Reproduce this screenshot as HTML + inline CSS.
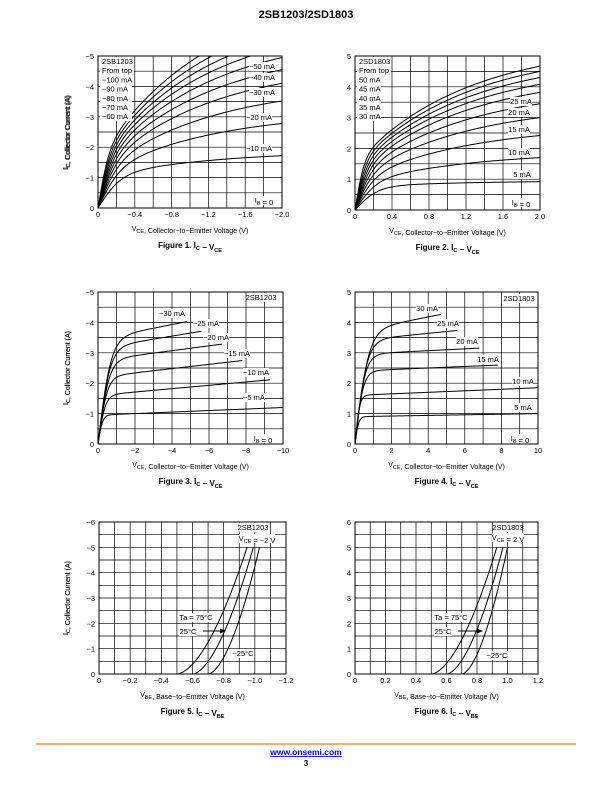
<!DOCTYPE html>
<html><head><meta charset="utf-8">
<style>
html,body{margin:0;padding:0;background:#fff;}
svg{display:block;font-family:"Liberation Sans",Arial,sans-serif;}
</style></head>
<body>
<svg id="s" width="612" height="792" viewBox="0 0 612 792" xmlns="http://www.w3.org/2000/svg">
<text x="306" y="18" text-anchor="middle" font-size="11" font-weight="bold">2SB1203/2SD1803</text>
<line x1="36" y1="744" x2="576" y2="744" stroke="#e8781e" stroke-width="1.2"/>
<text x="306" y="755" text-anchor="middle" font-size="8.5" font-weight="bold" fill="#0000ee" text-decoration="underline">www.onsemi.com</text>
<text x="306" y="766" text-anchor="middle" font-size="8" font-weight="bold">3</text>
</svg>
<script>
var S=document.getElementById('s'),h='';
function T(x,y,t,o){o=o||{};h+='<text x="'+x+'" y="'+y+'" font-size="'+(o.fs||7.5)+'" text-anchor="'+(o.a||'middle')+'"'+(o.b?' font-weight="bold"':'')+(o.tr?' transform="'+o.tr+'"':'')+'>'+t+'</text>';}
function LBL(x,y,t,w){h+='<rect x="'+(x-w/2)+'" y="'+(y-7)+'" width="'+w+'" height="9" fill="#fff"/>';T(x,y,t);}
var cid=0;
function chart(c){
 var L=c.L,R=c.R,Tp=c.T,B=c.B,nx=c.nx,ny=c.ny;
 for(var i=1;i<nx;i++){var x=L+(R-L)*i/nx;h+='<line x1="'+x+'" y1="'+Tp+'" x2="'+x+'" y2="'+B+'" stroke="#000" stroke-width="0.7"/>';}
 for(var j=1;j<ny;j++){var y=Tp+(B-Tp)*j/ny;h+='<line x1="'+L+'" y1="'+y+'" x2="'+R+'" y2="'+y+'" stroke="#000" stroke-width="0.7"/>';}
 h+='<rect x="'+L+'" y="'+Tp+'" width="'+(R-L)+'" height="'+(B-Tp)+'" fill="none" stroke="#000" stroke-width="1"/>';
 c.xt.forEach(function(t,i){T(L+(R-L)*i/(c.xt.length-1),B+9,t);});
 c.yt.forEach(function(t,i){T(L-4,B-(B-Tp)*i/(c.yt.length-1)+3,t,{a:'end'});});
 var cy=(Tp+B)/2;
 T(68,cy,c.yl,{tr:'rotate(-90 68 '+cy+')',fs:7});
 T((L+R)/2,B+23,c.xl,{fs:7});
 T((L+R)/2,B+40,c.cap,{b:1,fs:8});
 cid++;h+='<clipPath id="c'+cid+'"><rect x="'+L+'" y="'+Tp+'" width="'+(R-L)+'" height="'+(B-Tp)+'"/></clipPath><g clip-path="url(#c'+cid+')" fill="none" stroke="#000" stroke-width="1">';
 c.curves.forEach(function(f){var d='';for(var k=0;k<=150;k++){var v=f.s+(f.e-f.s)*k/150,ic=f.f(v);var x=L+(R-L)*v/c.xm,y=B-(B-Tp)*ic/c.ym;d+=(k?'L':'M')+x.toFixed(2)+' '+y.toFixed(2);}h+='<path d="'+d+'"/>';});
 h+='</g>';
}
function th(a,v0,b){return function(v){return a*Math.tanh(v/v0)+b*v;};}
var m='&#8722;';
function sat(ends,a0,a1,v00,v01,v1){var cs=[];var n=1-Math.exp(-2/v1),N=ends.length;for(var k=0;k<N;k++){(function(a,E,v0){cs.push({s:0,e:2,f:function(v){return a*Math.tanh(v/v0)+(E-a)*(1-Math.exp(-v/v1))/n;}});})(a0+(a1-a0)*k/(N-1),ends[k],v00+(v01-v00)*k/(N-1));}return cs;}
var sub='<tspan font-size="5.5" dy="2">', esub='</tspan><tspan dy="-2"></tspan>';
var YL='I'+sub+'C'+esub+', Collector Current (A)';
// Fig1
chart({L:98,R:282,T:56,B:208,nx:10,ny:10,xm:2,ym:5,
 xt:['0',m+'0.4',m+'0.8',m+'1.2',m+'1.6',m+'2.0'],
 yt:['0',m+'1',m+'2',m+'3',m+'4',m+'5'],
 yl:YL,xl:'V'+sub+'CE'+esub+', Collector&#8722;to&#8722;Emitter Voltage (V)',cap:'Figure 1. I'+sub+'C'+esub+' &#8722; V'+sub+'CE'+esub,
 curves:sat([1.72,2.78,3.52,4.1,4.55,4.95,5.3,5.6,5.9,6.2],1.0,1.6,0.25,0.12,1.2)});
['2SB1203','From top',m+'100 mA',m+'90 mA',m+'80 mA',m+'70 mA',m+'60 mA'].forEach(function(t,i){h+='<rect x="100" y="'+(57+i*9.2)+'" width="'+(i<2?34:32)+'" height="9" fill="#fff"/>';T(102,64+i*9.2,t,{a:'start'});});
LBL(262,69,m+'50 mA',26);LBL(262,80,m+'40 mA',26);LBL(262,95,m+'30 mA',26);LBL(259,120,m+'20 mA',26);LBL(259,151,m+'10 mA',26);
LBL(264,203,'I'+sub+'B'+esub+' = 0',22);
// Fig2
chart({L:355,R:540,T:56,B:210,nx:10,ny:10,xm:2,ym:5,
 xt:['0','0.4','0.8','1.2','1.6','2.0'],yt:['0','1','2','3','4','5'],
 yl:YL,xl:'V'+sub+'CE'+esub+', Collector&#8722;to&#8722;Emitter Voltage (V)',cap:'Figure 2. I'+sub+'C'+esub+' &#8722; V'+sub+'CE'+esub,
 curves:sat([0.92,1.7,2.42,3.0,3.45,3.82,4.08,4.3,4.5,4.67],0.75,1.5,0.25,0.1,1.2)});
['2SD1803','From top','50 mA','45 mA','40 mA','35 mA','30 mA'].forEach(function(t,i){h+='<rect x="357" y="'+(57+i*9.2)+'" width="'+(i<2?34:24)+'" height="9" fill="#fff"/>';T(359,64+i*9.2,t,{a:'start'});});
LBL(521,104,'25 mA',22);LBL(519,115,'20 mA',22);LBL(519,132,'15 mA',22);LBL(519,155,'10 mA',22);LBL(522,177,'5 mA',20);
LBL(521,205,'I'+sub+'B'+esub+' = 0',22);
// Fig3
chart({L:98,R:283,T:292,B:444,nx:10,ny:10,xm:10,ym:5,
 xt:['0',m+'2',m+'4',m+'6',m+'8',m+'10'],yt:['0',m+'1',m+'2',m+'3',m+'4',m+'5'],
 yl:YL,xl:'V'+sub+'CE'+esub+', Collector&#8722;to&#8722;Emitter Voltage (V)',cap:'Figure 3. I'+sub+'C'+esub+' &#8722; V'+sub+'CE'+esub,
 curves:[{s:0,e:10,f:th(0.95,0.25,0.025)},{s:0,e:9.3,f:th(1.6,0.4,0.055)},{s:0,e:7.8,f:th(2.2,0.5,0.07)},{s:0,e:6.7,f:th(2.75,0.6,0.08)},{s:0,e:5.6,f:th(3.15,0.65,0.1)},{s:0,e:4.8,f:th(3.45,0.7,0.12)}]});
LBL(172,316,m+'30 mA',26);LBL(206,326,m+'25 mA',26);LBL(216,340,m+'20 mA',26);LBL(237,356,m+'15 mA',26);LBL(256,375,m+'10 mA',26);LBL(254,400,m+'5 mA',22);
LBL(261,300,'2SB1203',28);LBL(263,441,'I'+sub+'B'+esub+' = 0',22);
// Fig4
chart({L:355,R:538,T:292,B:444,nx:10,ny:10,xm:10,ym:5,
 xt:['0','2','4','6','8','10'],yt:['0','1','2','3','4','5'],
 yl:YL,xl:'V'+sub+'CE'+esub+', Collector&#8722;to&#8722;Emitter Voltage (V)',cap:'Figure 4. I'+sub+'C'+esub+' &#8722; V'+sub+'CE'+esub,
 curves:[{s:0,e:10,f:th(0.9,0.2,0.01)},{s:0,e:10,f:th(1.6,0.25,0.025)},{s:0,e:7.8,f:th(2.4,0.45,0.025)},{s:0,e:6.8,f:th(2.95,0.55,0.03)},{s:0,e:5.6,f:th(3.4,0.65,0.06)},{s:0,e:4.7,f:th(3.7,0.75,0.12)}]});
LBL(427,311,'30 mA',22);LBL(448,326,'25 mA',22);LBL(467,344,'20 mA',22);LBL(488,362,'15 mA',22);LBL(523,384,'10 mA',22);LBL(523,410,'5 mA',20);
LBL(519,301,'2SD1803',28);LBL(520,441,'I'+sub+'B'+esub+' = 0',22);
// Fig5/6
function vbe(v0,ve){return{s:0,e:ve,f:function(v){return v<=v0?0:5*Math.pow((v-v0)/(ve-v0),1.7);}};}
chart({L:99,R:286,T:522,B:674,nx:12,ny:12,xm:1.2,ym:6,
 xt:['0',m+'0.2',m+'0.4',m+'0.6',m+'0.8',m+'1.0',m+'1.2'],yt:['0',m+'1',m+'2',m+'3',m+'4',m+'5',m+'6'],
 yl:YL,xl:'V'+sub+'BE'+esub+', Base&#8722;to&#8722;Emitter Voltage (V)',cap:'Figure 5. I'+sub+'C'+esub+' &#8722; V'+sub+'BE'+esub,
 curves:[vbe(0.5,0.95),vbe(0.6,0.99),vbe(0.7,1.03)]});
LBL(253,530,'2SB1203',28);LBL(257,541,'V'+sub+'CE'+esub+' = '+m+'2 V',36);
LBL(196,620,'Ta = 75&#176;C',34);LBL(188,634,'25&#176;C',18);LBL(243,656,m+'25&#176;C',22);
h+='<line x1="203" y1="631" x2="222" y2="631" stroke="#000" stroke-width="1"/><path d="M226 631 L220 628.5 L220 633.5Z"/>';
chart({L:355,R:538,T:522,B:674,nx:12,ny:12,xm:1.2,ym:6,
 xt:['0','0.2','0.4','0.6','0.8','1.0','1.2'],yt:['0','1','2','3','4','5','6'],
 yl:YL,xl:'V'+sub+'BE'+esub+', Base&#8722;to&#8722;Emitter Voltage (V)',cap:'Figure 6. I'+sub+'C'+esub+' &#8722; V'+sub+'BE'+esub,
 curves:[vbe(0.5,0.93),vbe(0.6,0.97),vbe(0.7,1.0)]});
LBL(508,530,'2SD1803',28);LBL(508,540,'V'+sub+'CE'+esub+' = 2 V',32);
LBL(451,620,'Ta = 75&#176;C',34);LBL(443,634,'25&#176;C',18);LBL(497,658,m+'25&#176;C',22);
h+='<line x1="458" y1="631" x2="479" y2="631" stroke="#000" stroke-width="1"/><path d="M483 631 L477 628.5 L477 633.5Z"/>';
S.insertAdjacentHTML('beforeend',h);
</script>
</body></html>
